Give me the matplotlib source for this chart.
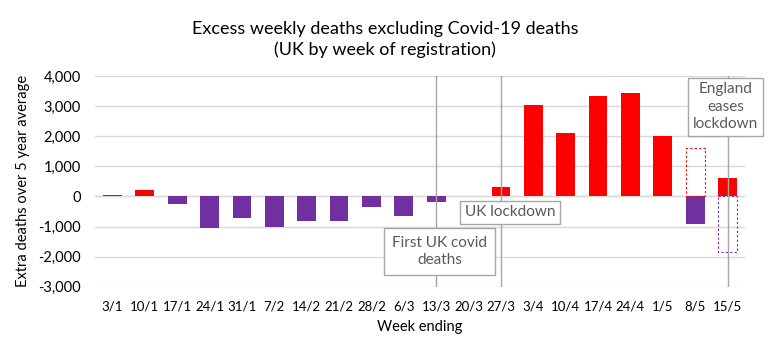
import matplotlib.pyplot as plt
from matplotlib.patches import Rectangle

weeks = ["3/1", "10/1", "17/1", "24/1", "31/1", "7/2", "14/2", "21/2", "28/2", "6/3",
         "13/3", "20/3", "27/3", "3/4", "10/4", "17/4", "24/4", "1/5", "8/5", "15/5"]
excess = [60, 200, -250, -1050, -720, -1000, -800, -800, -350, -650,
          -200, 0, 300, 3050, 2100, 3320, 3450, 2000, -900, 600]

# dashed "what it would have been" boxes for the last two weeks
ghost_weeks = ["8/5", "15/5"]
ghost_vals = [1620, -1850]

event_weeks = ["13/3", "27/3", "15/5"]

red = "#FF0000"
purple = "#7030A0"
grey_text = "#595959"

plt.rcParams["font.family"] = ["Lato", "DejaVu Sans"]

fig = plt.figure(figsize=(7.7, 3.55), dpi=100)
ax = fig.add_axes([0.123, 0.192, 0.845, 0.594])

x = list(range(len(weeks)))
colors = [red if v >= 0 else purple for v in excess]
ax.bar(x, excess, width=0.58, color=colors, zorder=3)

for wk, v in zip(ghost_weeks, ghost_vals):
    i = weeks.index(wk)
    ec = red if v > 0 else purple
    ax.add_patch(Rectangle((i - 0.29, 0), 0.58, v, fill=False, ec=ec,
                           ls=(0, (2, 2)), lw=0.8, zorder=4))

for wk in event_weeks:
    ax.axvline(weeks.index(wk), color="#a6a6a6", lw=1, zorder=5)

ax.set_ylim(-3000, 4000)
ax.set_xlim(-0.55, len(weeks) - 0.45)
ax.set_yticks(range(-3000, 4001, 1000))
ax.set_yticklabels([f"{v:,}" for v in range(-3000, 4001, 1000)], fontsize=10.5)
ax.set_xticks(x)
ax.set_xticklabels(weeks, fontsize=9.5)
ax.tick_params(length=0, pad=10, colors="black")
ax.tick_params(axis="y", pad=10)
ax.grid(axis="y", color="#d9d9d9", lw=1, zorder=0)
ax.axhline(0, color="#d9d9d9", lw=1, zorder=1)
for s in ax.spines.values():
    s.set_visible(False)

ax.set_ylabel("Extra deaths over 5 year average", fontsize=10.5, labelpad=6)
ax.set_xlabel("Week ending", fontsize=10.5, labelpad=5)
fig.suptitle("Excess weekly deaths excluding Covid-19 deaths\n(UK by week of registration)",
             fontsize=13, y=0.942, linespacing=1.35)

box = dict(boxstyle="square,pad=0.5", fc="white", ec="#a6a6a6", lw=1)
ax.text(10.1, -1820, "First UK covid\ndeaths", ha="center", va="center",
        fontsize=11, color=grey_text, bbox=box, zorder=6, linespacing=1.3)
ax.text(12.28, -530, "UK lockdown", ha="center", va="center",
        fontsize=11, color=grey_text, bbox=dict(boxstyle="square,pad=0.3", fc="white", ec="#a6a6a6", lw=1), zorder=6)
ax.text(18.94, 2980, "England\neases\nlockdown", ha="center", va="center",
        fontsize=11, color=grey_text, bbox=dict(boxstyle="square,pad=0.3", fc="white", ec="#a6a6a6", lw=1),
        zorder=6, linespacing=1.3, clip_on=False)

fig.savefig("out.png", dpi=100)
